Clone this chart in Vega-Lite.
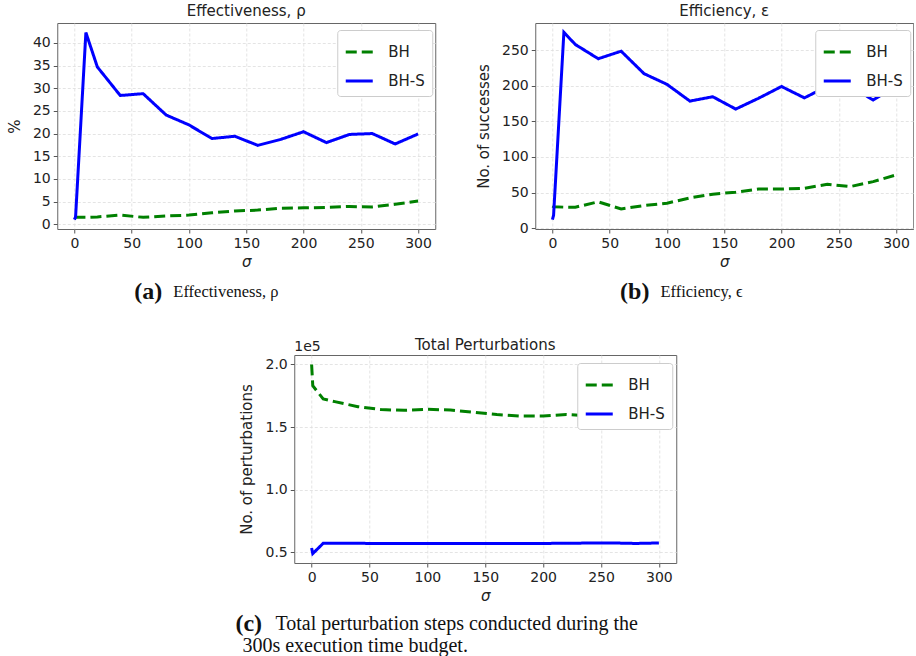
{
  "$schema": "https://vega.github.io/schema/vega-lite/v6.json",
  "background": "white",
  "padding": {"left": 6, "top": 3, "right": 0, "bottom": 2},
  "config": {
    "font": "DejaVu Sans",
    "view": {"stroke": "#666666", "strokeWidth": 1},
    "axis": {
      "domain": false,
      "tickColor": "#555555",
      "tickSize": 4,
      "labelFontSize": 14,
      "labelColor": "#222222",
      "labelPadding": 3,
      "titleFontSize": 15,
      "titleFontWeight": "normal",
      "titleColor": "#222222",
      "gridColor": "#dddddd",
      "gridDash": [3, 2],
      "gridWidth": 0.8
    },
    "axisX": {"titleFontStyle": "italic", "titlePadding": 4, "labelFlush": false},
    "axisY": {"titlePadding": 10},
    "title": {"fontSize": 15, "fontWeight": "normal", "color": "#222222", "offset": 4},
    "legend": {
      "orient": "none",
      "fillColor": "white",
      "strokeColor": "#cccccc",
      "cornerRadius": 3,
      "padding": 7,
      "labelFontSize": 15,
      "labelColor": "#222222",
      "symbolSize": 729,
      "symbolStrokeWidth": 3,
      "symbolType": "stroke",
      "rowPadding": 6,
      "labelOffset": 14
    }
  },
  "resolve": {
    "scale": {"color": "independent", "strokeDash": "independent"},
    "legend": {"color": "independent", "strokeDash": "independent"}
  },
  "vconcat": [
    {
      "resolve": {
        "scale": {"color": "independent", "strokeDash": "independent"},
        "legend": {"color": "independent", "strokeDash": "independent"}
      },
      "hconcat": [
        {
          "vconcat": [
            {
              "title": "Effectiveness, ρ",
              "width": 378,
              "height": 206,
              "data": {"values": [
                {"sigma": 0, "method": "BH", "value": 1.5},
                {"sigma": 1, "method": "BH", "value": 1.5},
                {"sigma": 10, "method": "BH", "value": 1.5},
                {"sigma": 20, "method": "BH", "value": 1.6},
                {"sigma": 40, "method": "BH", "value": 2.0},
                {"sigma": 60, "method": "BH", "value": 1.5},
                {"sigma": 80, "method": "BH", "value": 1.8},
                {"sigma": 100, "method": "BH", "value": 2.0},
                {"sigma": 120, "method": "BH", "value": 2.5},
                {"sigma": 140, "method": "BH", "value": 2.9},
                {"sigma": 160, "method": "BH", "value": 3.1},
                {"sigma": 180, "method": "BH", "value": 3.5},
                {"sigma": 200, "method": "BH", "value": 3.6},
                {"sigma": 220, "method": "BH", "value": 3.7},
                {"sigma": 240, "method": "BH", "value": 3.9},
                {"sigma": 260, "method": "BH", "value": 3.8},
                {"sigma": 280, "method": "BH", "value": 4.4},
                {"sigma": 300, "method": "BH", "value": 5.1},
                {"sigma": 0, "method": "BH-S", "value": 1.0},
                {"sigma": 1, "method": "BH-S", "value": 1.6},
                {"sigma": 10, "method": "BH-S", "value": 42.3},
                {"sigma": 20, "method": "BH-S", "value": 34.7},
                {"sigma": 40, "method": "BH-S", "value": 28.4},
                {"sigma": 60, "method": "BH-S", "value": 28.8},
                {"sigma": 80, "method": "BH-S", "value": 24.1},
                {"sigma": 100, "method": "BH-S", "value": 21.9},
                {"sigma": 120, "method": "BH-S", "value": 18.9},
                {"sigma": 140, "method": "BH-S", "value": 19.4},
                {"sigma": 160, "method": "BH-S", "value": 17.4},
                {"sigma": 180, "method": "BH-S", "value": 18.7},
                {"sigma": 200, "method": "BH-S", "value": 20.4},
                {"sigma": 220, "method": "BH-S", "value": 18.0},
                {"sigma": 240, "method": "BH-S", "value": 19.8},
                {"sigma": 260, "method": "BH-S", "value": 20.0},
                {"sigma": 280, "method": "BH-S", "value": 17.7},
                {"sigma": 300, "method": "BH-S", "value": 19.9}
              ]},
              "mark": {"type": "line", "strokeWidth": 3},
              "encoding": {
                "x": {"field": "sigma", "type": "quantitative", "title": "σ",
                      "scale": {"domain": [-15, 315], "nice": false, "zero": false},
                      "axis": {"values": [0, 50, 100, 150, 200, 250, 300]}},
                "y": {"field": "value", "type": "quantitative", "title": "%",
                      "scale": {"domain": [-1.07, 44.4], "nice": false, "zero": false},
                      "axis": {"values": [0, 5, 10, 15, 20, 25, 30, 35, 40]}},
                "color": {"field": "method", "type": "nominal", "title": null,
                          "legend": {"orient": "none", "legendX": 280, "legendY": 7},
                          "scale": {"domain": ["BH", "BH-S"], "range": ["#008000", "#0000ff"]}},
                "strokeDash": {"field": "method", "type": "nominal", "title": null,
                               "legend": {"orient": "none", "legendX": 280, "legendY": 7},
                               "scale": {"domain": ["BH", "BH-S"], "range": [[11, 5], [1, 0]]}}
              }
            },
            {
              "width": 378,
              "height": 18,
              "view": {"stroke": null},
              "data": {"values": [{"label": "(a)", "rest": "Effectiveness, ρ", "pos": 0.278}]},
              "layer": [
                {
                  "mark": {"type": "text", "font": "Liberation Serif", "fontSize": 24, "fontWeight": "bold", "align": "right", "baseline": "middle", "color": "#111111"},
                  "encoding": {
                    "x": {"field": "pos", "type": "quantitative", "scale": {"domain": [0, 1]}, "axis": null},
                    "y": {"datum": 0.5, "type": "quantitative", "scale": {"domain": [0, 1]}, "axis": null},
                    "text": {"field": "label"}
                  }
                },
                {
                  "mark": {"type": "text", "font": "Liberation Serif", "fontSize": 16.5, "align": "left", "baseline": "middle", "dx": 11, "color": "#111111"},
                  "encoding": {
                    "x": {"field": "pos", "type": "quantitative", "scale": {"domain": [0, 1]}, "axis": null},
                    "y": {"datum": 0.5, "type": "quantitative", "scale": {"domain": [0, 1]}, "axis": null},
                    "text": {"field": "rest"}
                  }
                }
              ]
            }
          ],
          "spacing": 10
        },
        {
          "vconcat": [
            {
              "title": "Efficiency, ε",
              "width": 378,
              "height": 206,
              "data": {"values": [
                {"sigma": 0, "method": "BH", "value": 31},
                {"sigma": 1, "method": "BH", "value": 30},
                {"sigma": 10, "method": "BH", "value": 29.5},
                {"sigma": 20, "method": "BH", "value": 29.4},
                {"sigma": 40, "method": "BH", "value": 37},
                {"sigma": 60, "method": "BH", "value": 27},
                {"sigma": 80, "method": "BH", "value": 31.8},
                {"sigma": 100, "method": "BH", "value": 35},
                {"sigma": 120, "method": "BH", "value": 42.5},
                {"sigma": 140, "method": "BH", "value": 47.7},
                {"sigma": 160, "method": "BH", "value": 50.5},
                {"sigma": 180, "method": "BH", "value": 55},
                {"sigma": 200, "method": "BH", "value": 55},
                {"sigma": 220, "method": "BH", "value": 56},
                {"sigma": 240, "method": "BH", "value": 61.7},
                {"sigma": 260, "method": "BH", "value": 58.4},
                {"sigma": 280, "method": "BH", "value": 65.4},
                {"sigma": 300, "method": "BH", "value": 74.8},
                {"sigma": 0, "method": "BH-S", "value": 12},
                {"sigma": 1, "method": "BH-S", "value": 18},
                {"sigma": 10, "method": "BH-S", "value": 275},
                {"sigma": 20, "method": "BH-S", "value": 258},
                {"sigma": 40, "method": "BH-S", "value": 238},
                {"sigma": 60, "method": "BH-S", "value": 248.6},
                {"sigma": 80, "method": "BH-S", "value": 217},
                {"sigma": 100, "method": "BH-S", "value": 202},
                {"sigma": 120, "method": "BH-S", "value": 178.5},
                {"sigma": 140, "method": "BH-S", "value": 184.6},
                {"sigma": 160, "method": "BH-S", "value": 167.3},
                {"sigma": 180, "method": "BH-S", "value": 182.5},
                {"sigma": 200, "method": "BH-S", "value": 199},
                {"sigma": 220, "method": "BH-S", "value": 183},
                {"sigma": 240, "method": "BH-S", "value": 199.5},
                {"sigma": 260, "method": "BH-S", "value": 199.5},
                {"sigma": 280, "method": "BH-S", "value": 180},
                {"sigma": 300, "method": "BH-S", "value": 200}
              ]},
              "mark": {"type": "line", "strokeWidth": 3},
              "encoding": {
                "x": {"field": "sigma", "type": "quantitative", "title": "σ",
                      "scale": {"domain": [-15, 315], "nice": false, "zero": false},
                      "axis": {"values": [0, 50, 100, 150, 200, 250, 300]}},
                "y": {"field": "value", "type": "quantitative", "title": "No. of successes",
                      "scale": {"domain": [-1.2, 288.2], "nice": false, "zero": false},
                      "axis": {"values": [0, 50, 100, 150, 200, 250]}},
                "color": {"field": "method", "type": "nominal", "title": null,
                          "legend": {"orient": "none", "legendX": 280, "legendY": 7},
                          "scale": {"domain": ["BH", "BH-S"], "range": ["#008000", "#0000ff"]}},
                "strokeDash": {"field": "method", "type": "nominal", "title": null,
                               "legend": {"orient": "none", "legendX": 280, "legendY": 7},
                               "scale": {"domain": ["BH", "BH-S"], "range": [[11, 5], [1, 0]]}}
              }
            },
            {
              "width": 378,
              "height": 18,
              "view": {"stroke": null},
              "data": {"values": [{"label": "(b)", "rest": "Efficiency, ϵ", "pos": 0.302}]},
              "layer": [
                {
                  "mark": {"type": "text", "font": "Liberation Serif", "fontSize": 24, "fontWeight": "bold", "align": "right", "baseline": "middle", "color": "#111111"},
                  "encoding": {
                    "x": {"field": "pos", "type": "quantitative", "scale": {"domain": [0, 1]}, "axis": null},
                    "y": {"datum": 0.5, "type": "quantitative", "scale": {"domain": [0, 1]}, "axis": null},
                    "text": {"field": "label"}
                  }
                },
                {
                  "mark": {"type": "text", "font": "Liberation Serif", "fontSize": 16.5, "align": "left", "baseline": "middle", "dx": 11, "color": "#111111"},
                  "encoding": {
                    "x": {"field": "pos", "type": "quantitative", "scale": {"domain": [0, 1]}, "axis": null},
                    "y": {"datum": 0.5, "type": "quantitative", "scale": {"domain": [0, 1]}, "axis": null},
                    "text": {"field": "rest"}
                  }
                }
              ]
            }
          ],
          "spacing": 10
        }
      ],
      "spacing": 39
    },
    {
      "vconcat": [
        {
          "title": {"text": "Total Perturbations", "offset": -13},
          "width": 382,
          "height": 208,
          "data": {"values": [
            {"sigma": 0, "method": "BH", "value": 200000},
            {"sigma": 1, "method": "BH", "value": 183000},
            {"sigma": 10, "method": "BH", "value": 172500},
            {"sigma": 20, "method": "BH", "value": 170300},
            {"sigma": 40, "method": "BH", "value": 166300},
            {"sigma": 60, "method": "BH", "value": 164000},
            {"sigma": 80, "method": "BH", "value": 163400},
            {"sigma": 100, "method": "BH", "value": 164200},
            {"sigma": 120, "method": "BH", "value": 163600},
            {"sigma": 140, "method": "BH", "value": 161800},
            {"sigma": 160, "method": "BH", "value": 160000},
            {"sigma": 180, "method": "BH", "value": 158800},
            {"sigma": 200, "method": "BH", "value": 158800},
            {"sigma": 220, "method": "BH", "value": 160000},
            {"sigma": 240, "method": "BH", "value": 159000},
            {"sigma": 260, "method": "BH", "value": 157500},
            {"sigma": 280, "method": "BH", "value": 157200},
            {"sigma": 300, "method": "BH", "value": 159000},
            {"sigma": 0, "method": "BH-S", "value": 53500},
            {"sigma": 1, "method": "BH-S", "value": 49000},
            {"sigma": 10, "method": "BH-S", "value": 57200},
            {"sigma": 20, "method": "BH-S", "value": 57200},
            {"sigma": 40, "method": "BH-S", "value": 57200},
            {"sigma": 60, "method": "BH-S", "value": 57100},
            {"sigma": 80, "method": "BH-S", "value": 57100},
            {"sigma": 100, "method": "BH-S", "value": 57000},
            {"sigma": 120, "method": "BH-S", "value": 57100},
            {"sigma": 140, "method": "BH-S", "value": 57000},
            {"sigma": 160, "method": "BH-S", "value": 57000},
            {"sigma": 180, "method": "BH-S", "value": 57100},
            {"sigma": 200, "method": "BH-S", "value": 57100},
            {"sigma": 220, "method": "BH-S", "value": 57300},
            {"sigma": 240, "method": "BH-S", "value": 57400},
            {"sigma": 260, "method": "BH-S", "value": 57500},
            {"sigma": 280, "method": "BH-S", "value": 57100},
            {"sigma": 300, "method": "BH-S", "value": 57500}
          ]},
          "layer": [
            {
              "mark": {"type": "line", "strokeWidth": 3},
              "encoding": {
                "x": {"field": "sigma", "type": "quantitative", "title": "σ",
                      "scale": {"domain": [-15, 315], "nice": false, "zero": false},
                      "axis": {"values": [0, 50, 100, 150, 200, 250, 300]}},
                "y": {"field": "value", "type": "quantitative", "title": "No. of perturbations",
                      "scale": {"domain": [41500, 207550], "nice": false, "zero": false},
                      "axis": {"values": [50000, 100000, 150000, 200000], "labelExpr": "format(datum.value / 100000, '.1f')"}},
                "color": {"field": "method", "type": "nominal", "title": null,
                          "legend": {"orient": "none", "legendX": 283, "legendY": 8},
                          "scale": {"domain": ["BH", "BH-S"], "range": ["#008000", "#0000ff"]}},
                "strokeDash": {"field": "method", "type": "nominal", "title": null,
                               "legend": {"orient": "none", "legendX": 283, "legendY": 8},
                               "scale": {"domain": ["BH", "BH-S"], "range": [[11, 5], [1, 0]]}}
              }
            },
            {
              "data": {"values": [{"sigma": -15, "value": 207550, "label": "1e5"}]},
              "mark": {"type": "text", "align": "left", "baseline": "bottom", "dy": -1, "fontSize": 14, "color": "#222222"},
              "encoding": {
                "x": {"field": "sigma", "type": "quantitative"},
                "y": {"field": "value", "type": "quantitative"},
                "text": {"field": "label"}
              }
            }
          ]
        },
        {
          "width": 382,
          "height": 44,
          "view": {"stroke": null},
          "data": {"values": [
            {"label": "(c)", "pos": -0.154, "row": 0.25, "weight": "bold"},
            {"label": "Total perturbation steps conducted during the", "pos": -0.154, "row": 0.25, "weight": "normal"},
            {"label": "300s execution time budget.", "pos": -0.154, "row": 0.75, "weight": "normal"}
          ]},
          "layer": [
            {
              "transform": [{"filter": "datum.weight === 'bold'"}],
              "mark": {"type": "text", "font": "Liberation Serif", "fontSize": 24, "fontWeight": "bold", "align": "left", "baseline": "middle", "color": "#111111"},
              "encoding": {
                "x": {"field": "pos", "type": "quantitative", "scale": {"domain": [0, 1]}, "axis": null},
                "y": {"field": "row", "type": "quantitative", "scale": {"domain": [1, 0]}, "axis": null},
                "text": {"field": "label"}
              }
            },
            {
              "transform": [{"filter": "datum.weight === 'normal' && datum.row < 0.5"}],
              "mark": {"type": "text", "font": "Liberation Serif", "fontSize": 20, "align": "left", "baseline": "middle", "dx": 40, "color": "#111111"},
              "encoding": {
                "x": {"field": "pos", "type": "quantitative", "scale": {"domain": [0, 1]}, "axis": null},
                "y": {"field": "row", "type": "quantitative", "scale": {"domain": [1, 0]}, "axis": null},
                "text": {"field": "label"}
              }
            },
            {
              "transform": [{"filter": "datum.weight === 'normal' && datum.row > 0.5"}],
              "mark": {"type": "text", "font": "Liberation Serif", "fontSize": 20, "align": "left", "baseline": "middle", "dx": 7, "color": "#111111"},
              "encoding": {
                "x": {"field": "pos", "type": "quantitative", "scale": {"domain": [0, 1]}, "axis": null},
                "y": {"field": "row", "type": "quantitative", "scale": {"domain": [1, 0]}, "axis": null},
                "text": {"field": "label"}
              }
            }
          ]
        }
      ],
      "spacing": 8
    }
  ],
  "spacing": 33,
  "center": true
}
